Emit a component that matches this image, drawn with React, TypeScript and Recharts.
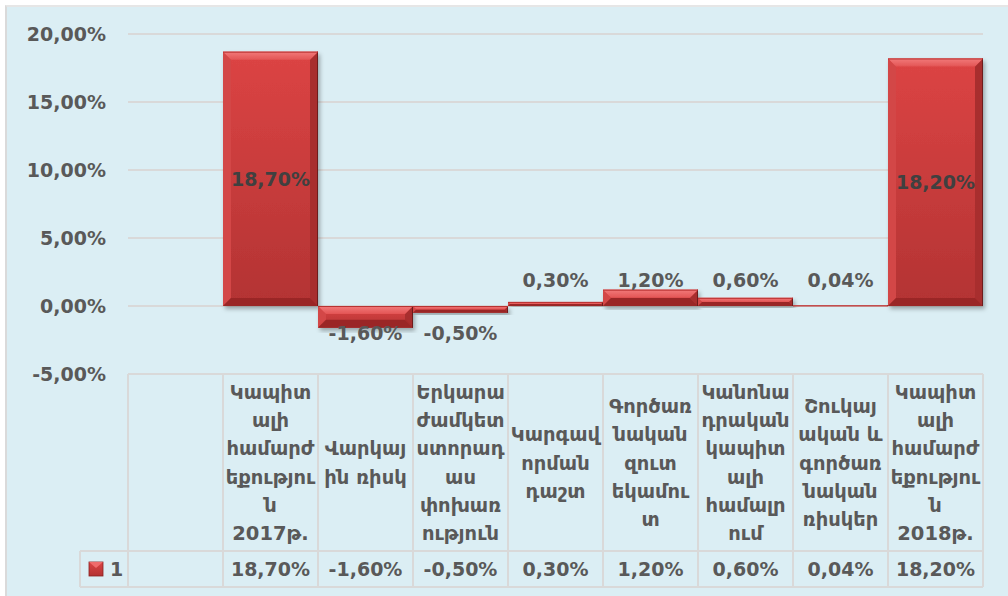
import { BarChart, Bar, XAxis, YAxis, CartesianGrid, LabelList } from "recharts";

// category header lines, wrapped the way the table cells show them
const CATEGORY_LINES: string[][] = [
  [],
  ["Կապիտ", "ալի", "համարժ", "եքությու", "ն", "2017թ."],
  ["Վարկայ", "ին ռիսկ"],
  ["Երկարա", "ժամկետ", "ստորադ", "աս", "փոխառ", "ություն"],
  ["Կարգավ", "որման", "դաշտ"],
  ["Գործառ", "նական", "զուտ", "եկամու", "տ"],
  ["Կանոնա", "դրական", "կապիտ", "ալի", "համալր", "ում"],
  ["Շուկայ", "ական և", "գործառ", "նական", "ռիսկեր"],
  ["Կապիտ", "ալի", "համարժ", "եքությու", "ն", "2018թ."],
];
const VALUES: (number | null)[] = [null, 18.7, -1.6, -0.5, 0.3, 1.2, 0.6, 0.04, 18.2];
const Y_TICKS = [-5, 0, 5, 10, 15, 20];
const SERIES_NAME = "1";

const W = 1008;
const H = 596;
const LEFT = 128;
const RIGHT = 25;
const TOP = 34;
const AXIS_H = 222;
const BAND = (W - LEFT - RIGHT) / CATEGORY_LINES.length;

const FONT = "DejaVu Sans, Verdana, sans-serif";
const TEXT = "#595959";
const GRID = "#d9d9d9";

const fmt = (v: number) => `${v.toFixed(2).replace(".", ",")}%`;

const data = VALUES.map((v, i) => ({ key: `c${i}`, value: v }));

function BevelBar(props: any) {
  const { x, y, width, height } = props;
  if (x == null || !height) return null;
  const top = Math.min(y, y + height);
  const h = Math.abs(height);
  const d = Math.min(8, h / 2, width / 2);
  const l = x;
  const r = x + width;
  const b = top + h;
  return (
    <g filter="url(#barShadow)">
      <rect x={l} y={top} width={width} height={h} fill="url(#barFill)" />
      <polygon points={`${l},${top} ${l + d},${top + d} ${l + d},${b - d} ${l},${b}`} fill="#d34646" />
      <polygon points={`${r},${top} ${r},${b} ${r - d},${b - d} ${r - d},${top + d}`} fill="#a82e2e" />
      <polygon points={`${l},${b} ${r},${b} ${r - d},${b - d} ${l + d},${b - d}`} fill="#9a2828" />
      <polygon points={`${l},${top} ${r},${top} ${r - d},${top + d} ${l + d},${top + d}`} fill="url(#bevelTop)" />
      <line x1={r - 0.5} y1={top} x2={r - 0.5} y2={b} stroke="#6e1a1a" strokeWidth={1} />
      <line x1={l} y1={top + 0.5} x2={r} y2={top + 0.5} stroke="#b83030" strokeWidth={1} />
    </g>
  );
}

function BarValueLabel(props: any) {
  const { x, y, width, height, value } = props;
  if (value == null) return null;
  const top = Math.min(y, y + height);
  const h = Math.abs(height);
  const cx = x + width / 2;
  let cy: number;
  let fill = TEXT;
  if (Math.abs(value) > 5) {
    cy = top + h / 2;
    fill = "#404040";
  } else if (value >= 0) {
    cy = top + h - 26;
  } else {
    cy = top + 27;
  }
  return (
    <text x={cx} y={cy} dy="0.36em" textAnchor="middle" fontFamily={FONT} fontWeight="bold" fontSize={19} fill={fill}>
      {fmt(value)}
    </text>
  );
}

function YTick(props: any) {
  const { x, y, payload } = props;
  return (
    <text x={x - 22} y={y} dy="0.36em" textAnchor="end" fontFamily={FONT} fontWeight="bold" fontSize={19} fill={TEXT}>
      {fmt(payload.value)}
    </text>
  );
}

// the data table under the plot, one column per category tick
function TableTick(props: any) {
  const { x, y, payload, index } = props;
  const i = index ?? payload.index;
  const lines = CATEGORY_LINES[i] || [];
  const v = VALUES[i];
  const l = x - BAND / 2;
  const r = x + BAND / 2;
  const headBottom = y + 177;
  const rowBottom = y + 213;
  const lh = 28.3;
  const mid = (y + headBottom) / 2;
  const first = mid - ((lines.length - 1) * lh) / 2;
  return (
    <g>
      <line x1={l} y1={y} x2={l} y2={rowBottom} stroke={GRID} strokeWidth={2} />
      {i === CATEGORY_LINES.length - 1 && (
        <line x1={r} y1={y} x2={r} y2={rowBottom} stroke={GRID} strokeWidth={2} />
      )}
      <line x1={l} y1={headBottom} x2={r} y2={headBottom} stroke={GRID} strokeWidth={2} />
      <line x1={l} y1={rowBottom} x2={r} y2={rowBottom} stroke={GRID} strokeWidth={2} />
      {lines.map((t, k) => (
        <text key={k} x={x} y={first + k * lh} dy="0.36em" textAnchor="middle" fontFamily={FONT} fontWeight="bold" fontSize={19.5} fill={TEXT}>
          {t}
        </text>
      ))}
      {v != null && (
        <text x={x} y={(headBottom + rowBottom) / 2} dy="0.36em" textAnchor="middle" fontFamily={FONT} fontWeight="bold" fontSize={19} fill={TEXT}>
          {fmt(v)}
        </text>
      )}
      {i === 0 && (
        <g>
          <line x1={l - 48} y1={headBottom} x2={l} y2={headBottom} stroke={GRID} strokeWidth={2} />
          <line x1={l - 48} y1={rowBottom} x2={l} y2={rowBottom} stroke={GRID} strokeWidth={2} />
          <line x1={l - 48} y1={headBottom} x2={l - 48} y2={rowBottom} stroke={GRID} strokeWidth={2} />
          <rect x={l - 39} y={headBottom + 11} width={14} height={14} fill="url(#barFill)" stroke="#8a2222" strokeWidth={0.8} />
          <polygon
            points={`${l - 39},${headBottom + 11} ${l - 25},${headBottom + 11} ${l - 32},${headBottom + 17}`}
            fill="#ef6b6b"
          />
          <text x={l - 18} y={(headBottom + rowBottom) / 2} dy="0.36em" fontFamily={FONT} fontWeight="bold" fontSize={19} fill={TEXT}>
            {SERIES_NAME}
          </text>
        </g>
      )}
    </g>
  );
}

export default function App() {
  return (
    <div style={{ position: "absolute", left: 0, top: 0, width: W, height: H, background: "#ffffff", overflow: "hidden" }}>
      <div
        style={{
          position: "absolute",
          left: 5,
          top: 5,
          width: W,
          height: H,
          background: "#dbeef4",
          borderLeft: "2px solid #dadada",
          borderTop: "2px solid #e6e6e6",
        }}
      />
      <div style={{ position: "absolute", left: 0, top: 0 }}>
        <BarChart width={W} height={H} data={data} barCategoryGap={0} margin={{ top: TOP, right: RIGHT, bottom: 0, left: 0 }}>
          <defs>
            <linearGradient id="barFill" x1="0" y1="0" x2="0" y2="1">
              <stop offset="0%" stopColor="#dc4444" />
              <stop offset="100%" stopColor="#b33333" />
            </linearGradient>
            <linearGradient id="bevelTop" x1="0" y1="0" x2="0" y2="1">
              <stop offset="0%" stopColor="#f27a7a" />
              <stop offset="100%" stopColor="#e35555" />
            </linearGradient>
            <filter id="barShadow" x="-10%" y="-10%" width="130%" height="130%">
              <feDropShadow dx="2" dy="3" stdDeviation="2" floodColor="#000000" floodOpacity="0.3" />
            </filter>
          </defs>
          <CartesianGrid vertical={false} stroke={GRID} strokeWidth={2} />
          <XAxis
            dataKey="key"
            height={AXIS_H}
            axisLine={false}
            tickLine={false}
            tickSize={0}
            tickMargin={0}
            interval={0}
            tick={<TableTick />}
          />
          <YAxis
            domain={[-5, 20]}
            ticks={Y_TICKS}
            width={LEFT}
            axisLine={false}
            tickLine={false}
            tickSize={0}
            tickMargin={0}
            tick={<YTick />}
          />
          <Bar dataKey="value" shape={<BevelBar />} isAnimationActive={false}>
            <LabelList dataKey="value" content={<BarValueLabel />} />
          </Bar>
        </BarChart>
      </div>
    </div>
  );
}
